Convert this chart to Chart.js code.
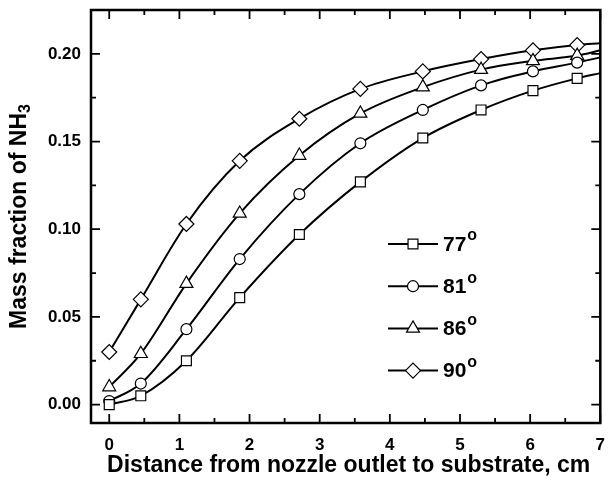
<!DOCTYPE html>
<html><head><meta charset="utf-8">
<script src="https://cdn.jsdelivr.net/npm/chart.js@4/dist/chart.umd.min.js"></script>
<style>html,body{margin:0;padding:0;background:#fff;}#wrap{width:609px;height:477px;}</style>
</head><body><div id="wrap"><canvas id="c" width="609" height="477"></canvas></div>
<script>
// ---- data ----
const distances = [0, 0.45, 1.1, 1.86, 2.71, 3.58, 4.47, 5.30, 6.04, 6.67, 7.0];
const angleLabels = ['77', '81', '86', '90'];
const frac77 = [0.000, 0.005, 0.025, 0.061, 0.097, 0.127, 0.152, 0.168, 0.179, 0.186, 0.189];
const frac81 = [0.002, 0.012, 0.043, 0.083, 0.120, 0.149, 0.168, 0.182, 0.190, 0.195, 0.198];
const frac86 = [0.010, 0.029, 0.069, 0.109, 0.142, 0.166, 0.181, 0.191, 0.196, 0.199, 0.202];
const frac90 = [0.030, 0.060, 0.103, 0.139, 0.163, 0.180, 0.190, 0.197, 0.202, 0.205, 0.206];
const xTicks = [0, 1, 2, 3, 4, 5, 6, 7];
const xMinorTicks = [0.5, 1.5, 2.5, 3.5, 4.5, 5.5, 6.5];
const yTicks = [0.00, 0.05, 0.10, 0.15, 0.20];
const yMinorTicks = [0.025, 0.075, 0.125, 0.175];
const xTitle = 'Distance from nozzle outlet to substrate, cm';
const yTitleMain = 'Mass fraction of NH';
const yTitleSub = '3';
const degreeMark = 'o';

const series = [frac77, frac81, frac86, frac90];
const styles = ['rect', 'circle', 'triangle', 'rectRot'];
const radii = [7, 5.5, 7.5, 7.5];
const FONT = '"Liberation Sans", Arial, sans-serif';

const datasets = series.map((vals, i) => ({
  label: angleLabels[i],
  data: vals.map((v, k) => ({x: distances[k], y: v})),
  borderColor: '#000',
  borderWidth: 2,
  backgroundColor: '#fff',
  pointBackgroundColor: '#fff',
  pointBorderColor: '#000',
  pointBorderWidth: 1.2,
  pointStyle: styles[i],
  pointRadius: vals.map((v, k) => k === vals.length - 1 ? 0 : radii[i]),
  cubicInterpolationMode: 'monotone',
  fill: false
}));

const framePlugin = {
  id: 'frame',
  afterDatasetsDraw(chart) {
    const {ctx, chartArea: a, scales: {x, y}} = chart;
    ctx.save();
    ctx.strokeStyle = '#000';
    ctx.lineWidth = 1.8;
    const tick = (list, len) => {
      list.forEach(v => {
        const px = x.getPixelForValue(v);
        ctx.beginPath();
        ctx.moveTo(px, a.bottom); ctx.lineTo(px, a.bottom - len);
        ctx.moveTo(px, a.top); ctx.lineTo(px, a.top + len);
        ctx.stroke();
      });
    };
    const ytick = (list, len) => {
      list.forEach(v => {
        const py = y.getPixelForValue(v);
        ctx.beginPath();
        ctx.moveTo(a.left, py); ctx.lineTo(a.left + len, py);
        ctx.moveTo(a.right, py); ctx.lineTo(a.right - len, py);
        ctx.stroke();
      });
    };
    tick(xTicks, 9); tick(xMinorTicks, 5);
    ytick(yTicks, 9); ytick(yMinorTicks, 5);
    ctx.lineWidth = 2.5;
    ctx.strokeRect(a.left, a.top, a.right - a.left, a.bottom - a.top);

    // legend
    const rowY0 = 244, rowGap = 42.2, lx0 = 388, lx1 = 438, mx = 413, tx = 443;
    chart.data.datasets.forEach((ds, i) => {
      const ry = rowY0 + i * rowGap;
      ctx.strokeStyle = '#000';
      ctx.lineWidth = 2;
      ctx.beginPath(); ctx.moveTo(lx0, ry); ctx.lineTo(lx1, ry); ctx.stroke();
      ctx.fillStyle = '#fff';
      ctx.lineWidth = 1.2;
      Chart.helpers.drawPoint(ctx, {pointStyle: ds.pointStyle, radius: radii[i], borderWidth: 1.2, rotation: 0}, mx, ry);
      ctx.fillStyle = '#000';
      ctx.font = 'bold 21px ' + FONT;
      ctx.textAlign = 'left';
      ctx.textBaseline = 'middle';
      ctx.fillText(ds.label, tx, ry + 1);
      const w = ctx.measureText(ds.label).width;
      ctx.font = 'bold 16px ' + FONT;
      ctx.fillText(degreeMark, tx + w + 1, ry - 8);
    });

    // titles
    ctx.fillStyle = '#000';
    ctx.font = 'bold 23px ' + FONT;
    ctx.textAlign = 'center';
    ctx.textBaseline = 'middle';
    ctx.fillText(xTitle, (a.left + a.right) / 2 + 3, 466);

    ctx.save();
    ctx.translate(20, (a.top + a.bottom) / 2);
    ctx.rotate(-Math.PI / 2);
    ctx.font = 'bold 23px ' + FONT;
    const wMain = ctx.measureText(yTitleMain).width;
    ctx.font = 'bold 16px ' + FONT;
    const wSub = ctx.measureText(yTitleSub).width;
    const start = -(wMain + wSub) / 2;
    ctx.textAlign = 'left';
    ctx.font = 'bold 23px ' + FONT;
    ctx.fillText(yTitleMain, start, 0);
    ctx.font = 'bold 16px ' + FONT;
    ctx.fillText(yTitleSub, start + wMain, 6);
    ctx.restore();
    ctx.restore();
  }
};

new Chart(document.getElementById('c'), {
  type: 'line',
  data: {datasets},
  options: {
    responsive: false,
    animation: false,
    devicePixelRatio: 1,
    layout: {padding: {left: 0, top: 10, right: 3, bottom: 0}},
    plugins: {legend: {display: false}, tooltip: {enabled: false}},
    scales: {
      x: {
        type: 'linear', min: -0.26, max: 7.0,
        afterBuildTicks: s => { s.ticks = xTicks.map(v => ({value: v})); },
        afterFit: s => { s.height = 54; s.paddingLeft = 0; s.paddingRight = 0; },
        grid: {display: false, drawTicks: false},
        border: {display: false},
        ticks: {color: '#000', padding: 12, maxRotation: 0, autoSkip: false,
          font: {family: FONT, size: 17, weight: 'bold'},
          callback: v => String(v)}
      },
      y: {
        type: 'linear', min: -0.0105, max: 0.225,
        afterBuildTicks: s => { s.ticks = yTicks.map(v => ({value: v})); },
        afterFit: s => { s.width = 91; s.paddingTop = 0; s.paddingBottom = 0; },
        grid: {display: false, drawTicks: false},
        border: {display: false},
        ticks: {color: '#000', padding: 10, autoSkip: false,
          font: {family: FONT, size: 17, weight: 'bold'},
          callback: v => v.toFixed(2)}
      }
    }
  },
  plugins: [framePlugin]
});
</script>
</body></html>
